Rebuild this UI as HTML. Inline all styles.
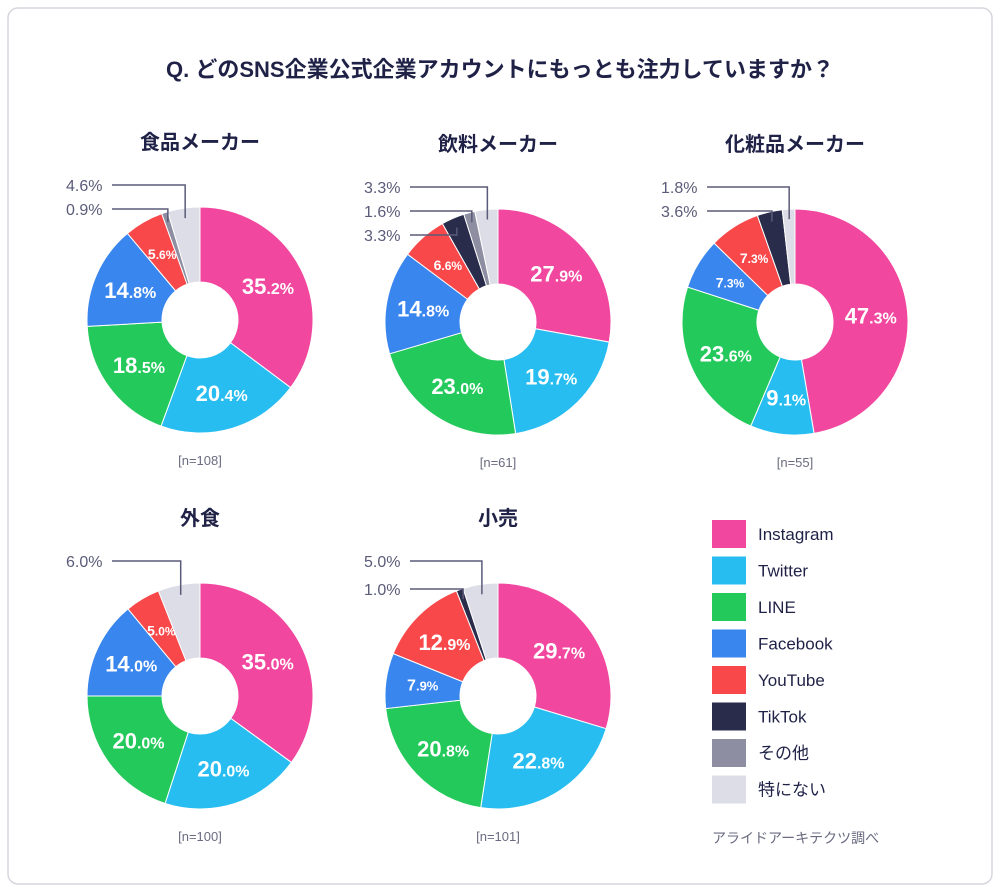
<!DOCTYPE html>
<html><head><meta charset="utf-8"><style>
body{margin:0;background:#fff;font-family:"Liberation Sans","Noto Sans CJK JP",sans-serif;}
#wrap{position:relative;width:1000px;height:892px;overflow:hidden}
svg text{font-family:"Liberation Sans","Noto Sans CJK JP",sans-serif}
</style></head><body>
<div id="wrap">
<svg id="svg" width="1000" height="892">
<rect x="8" y="8" width="984" height="876" rx="10" fill="#fff" stroke="#d5d6de" stroke-width="1.5"/>
<text x="500" y="77" text-anchor="middle" font-size="22" font-weight="bold" fill="#1f2246">Q.  どのSNS企業公式企業アカウントにもっとも注力していますか？</text>
</svg>
</div>
<script>
const seriesNames=["Instagram","Twitter","LINE","Facebook","YouTube","TikTok","その他","特にない"];
const colors=["#f2479f","#27bdf1","#24c95b","#3a86ef","#f8484a","#2a2c4c","#8d8ea2","#dcdde6"];
const chartTitles=["食品メーカー","飲料メーカー","化粧品メーカー","外食","小売"];
const sampleLabels=["[n=108]","[n=61]","[n=55]","[n=100]","[n=101]"];
const foodValues=[35.2,20.4,18.5,14.8,5.6,0,0.9,4.6];
const drinkValues=[27.9,19.7,23.0,14.8,6.6,3.3,1.6,3.3];
const cosmeticsValues=[47.3,9.1,23.6,7.3,7.3,3.6,0,1.8];
const restaurantValues=[35.0,20.0,20.0,14.0,5.0,0,0,6.0];
const retailValues=[29.7,22.8,20.8,7.9,12.9,1.0,0,5.0];
const allValues=[foodValues,drinkValues,cosmeticsValues,restaurantValues,retailValues];

const svg=document.getElementById('svg');
const NS="http://www.w3.org/2000/svg";
function mk(tag,attrs,parent){const e=document.createElementNS(NS,tag);for(const k in attrs)e.setAttribute(k,attrs[k]);(parent||svg).appendChild(e);return e;}
const layout=[{cx:200,cy:320},{cx:498,cy:322},{cx:795,cy:322},{cx:200,cy:696},{cx:498,cy:696}];
const R=113,r=38;
function pt(cx,cy,rad,a){return [cx+rad*Math.sin(a),cy-rad*Math.cos(a)];}
allValues.forEach((vals,ci)=>{
  const {cx,cy}=layout[ci];
  const t=mk('text',{x:cx,y:cy-R-58,'text-anchor':'middle','font-size':20,'font-weight':'bold',fill:'#1f2246'});
  
  
  t.textContent=chartTitles[ci];
  const n=mk('text',{x:cx,y:cy+R+32,'text-anchor':'middle','font-size':13,fill:'#6a6b80'});
  
  
  n.textContent=sampleLabels[ci];
  const total=vals.reduce((a,b)=>a+b,0);
  let a0=0;const calls=[];
  vals.forEach((v,i)=>{
    if(v<=0)return;
    const a1=a0+v/total*2*Math.PI;
    const p1=pt(cx,cy,R,a0),p2=pt(cx,cy,R,a1),p3=pt(cx,cy,r,a1),p4=pt(cx,cy,r,a0);
    const lg=(a1-a0)>Math.PI?1:0;
    const p=mk('path',{d:`M${p1}A${R},${R} 0 ${lg} 1 ${p2}L${p3}A${r},${r} 0 ${lg} 0 ${p4}Z`,fill:colors[i],stroke:'#fff','stroke-width':1});
    
    
    const am=(a0+a1)/2;
    if(i<5 && v>=5){
      const [lx,ly]=pt(cx,cy,76,am);
      const big=v>=9;const mid=v>=7.5&&!big;const s=v.toFixed(1);
      const tx=mk('text',{x:lx,y:ly+(big?8:5),'text-anchor':'middle',fill:'#fff','font-weight':'bold','font-size':big?22:(mid?16:14)});
      
      
      const dot=s.indexOf('.');
      tx.textContent=s.slice(0,dot);
      const sp=mk('tspan',{'font-size':big?16:(mid?13:12)},tx);sp.textContent=s.slice(dot)+'%';
    } else calls.push({i,v,am});
    a0=a1;
  });
  calls.sort((a,b)=>b.am-a.am);
  const tx0=cx-134;
  calls.forEach((c,k)=>{
    const ty=cy-R-22+k*(calls.length===2&&ci===4?28:24);
    const [ax,ay]=pt(cx,cy,R-10,c.am);
    const l=mk('polyline',{points:`${tx0+46},${ty} ${ax},${ty} ${ax},${ay}`,fill:'none',stroke:'#5a5b78','stroke-width':1.5});
    
    
    const t2=mk('text',{x:tx0,y:ty+6,fill:'#5a5b78','font-size':16});
    
    
    t2.textContent=c.v.toFixed(1)+'%';
  });
});
seriesNames.forEach((nm,i)=>{
  const y=520+i*36.5;
  const s=mk('rect',{x:712,y:y,width:34,height:28,fill:colors[i]});
  
  
  const t=mk('text',{x:758,y:y+20,'font-size':17,fill:'#1f2246'});
  
  
  t.textContent=nm;
});
const src=mk('text',{x:712,y:843,'font-size':14,fill:'#6a6b80'});


src.textContent='アライドアーキテクツ調べ';
</script>
</body></html>
